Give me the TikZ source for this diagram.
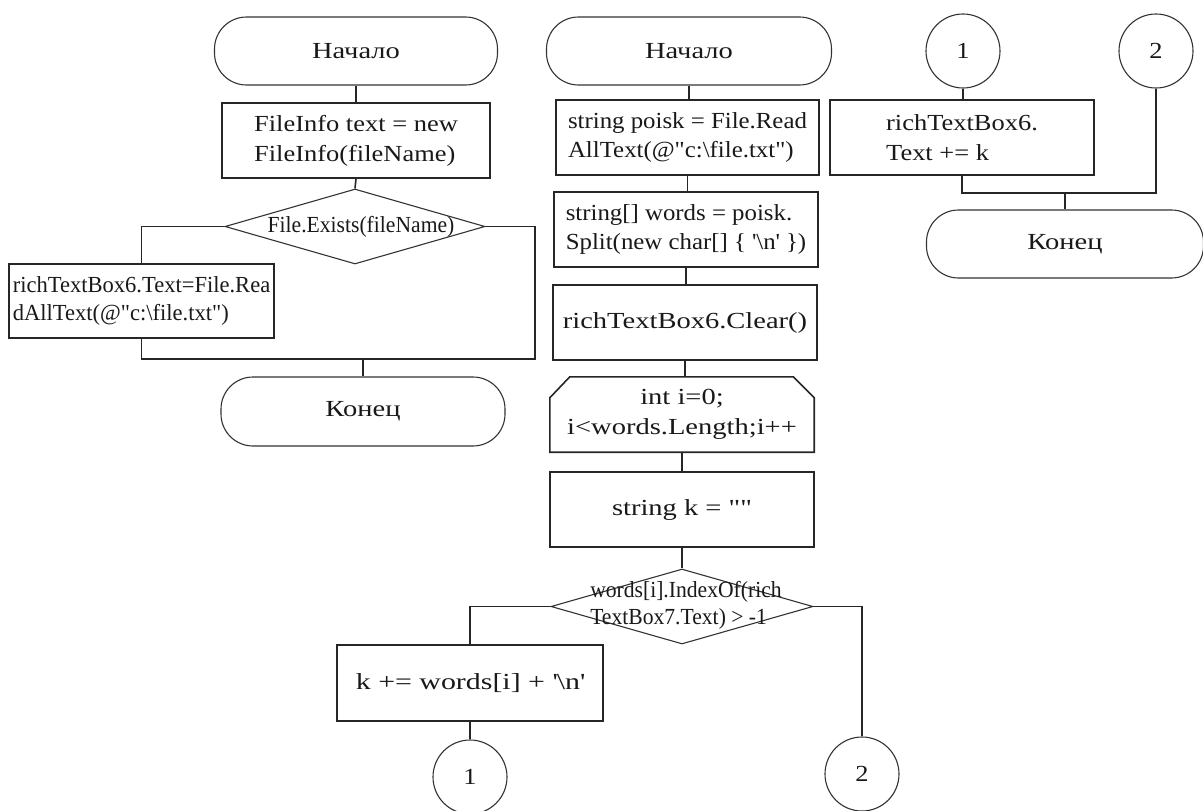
\documentclass[tikz,border=0pt]{standalone}
\usepackage{fontspec}
% Times-like faces at several horizontal widths
\newfontfamily\mainf{Liberation Serif}[FakeStretch=1.15]
\newfontfamily\midf{Liberation Serif}[FakeStretch=1.08]
\newfontfamily\widef{Liberation Serif}[FakeStretch=1.24]
\newfontfamily\xwidef{Liberation Serif}[FakeStretch=1.3]
\newfontfamily\condfont{Liberation Serif}[FakeStretch=0.94]
\newfontfamily\lcondfont{Liberation Serif}[FakeStretch=0.98]
\usetikzlibrary{shapes.geometric,calc}

\tikzset{
  ln/.style={draw=black!85, line width=1.6pt},
  thinln/.style={draw=black!80, line width=1.1pt},
  txt/.style={text=black!90, font=\mainf\fontsize{23}{30}\selectfont},
  term/.style={thinln, txt, font=\widef\fontsize{23}{30}\selectfont, rectangle, rounded corners=32pt, inner sep=0pt},
  proc/.style={ln, txt, rectangle, inner sep=0pt, align=left},
  decision/.style={thinln, diamond, inner sep=0pt},
  dtext/.style={inner sep=0pt, align=left, text=black!90, font=\condfont\fontsize{23}{27}\selectfont},
  conn/.style={thinln, txt, circle, inner sep=0pt, minimum size=74pt},
  flow/.style={ln},
}

\begin{document}
\begin{tikzpicture}[x=1pt,y=-1pt]
\useasboundingbox (0,0) rectangle (1203,811);
\fill[white] (0,0) rectangle (1203,811);

% ---------- first routine: read the file if it exists ----------
\node[term, minimum width=283pt, minimum height=68pt] (s1) at (356,51) {Начало};
\node[proc, minimum width=268pt, minimum height=75pt] (fi) at (356,140.5)
  {FileInfo text = new\\FileInfo(fileName)};
\node[decision, minimum width=260pt, minimum height=75pt] (d1) at (355,226.5) {};
\node[dtext] (d1t) at (361,227) {File.Exists(fileName)};
\node[proc, font=\lcondfont\fontsize{23}{28}\selectfont, minimum width=265pt, minimum height=74pt] (rb) at (141.5,301)
  {richTextBox6.Text=File.Rea\\dAllText(@"c:\textbackslash file.txt")};
\node[term, minimum width=284pt, minimum height=69pt] (e1) at (363,411.5) {Конец};
\coordinate (j1r) at (535,359);
\coordinate (j1) at (363,359);

\draw[flow] (s1.south) -- (s1.south |- fi.north);
\draw[flow] (fi.south) -- (d1.north);
\draw[flow] (d1.west) -| (rb.north);
\draw[flow] (rb.south) |- (j1r) |- (d1.east);
\draw[flow] (j1) -- (e1.north);

% ---------- second routine: search lines ----------
\node[term, minimum width=285pt, minimum height=68pt] (s2) at (689,51) {Начало};
\node[proc, font=\midf\fontsize{23}{29}\selectfont, minimum width=263pt, minimum height=75pt] (b1) at (687.5,137.5)
  {string poisk = File.Read\\AllText(@"c:\textbackslash file.txt")};
\node[proc, font=\midf\fontsize{23}{29}\selectfont, minimum width=264pt, minimum height=75pt] (b2) at (686,229.5)
  {string[] words = poisk.\\Split(new char[] \{ \textquotesingle\textbackslash n\textquotesingle{} \})};
\node[proc, font=\widef\fontsize{23}{30}\selectfont, minimum width=264pt, minimum height=75pt] (b3) at (685,322.5)
  {richTextBox6.Clear()};
\node[txt, font=\widef\fontsize{23}{30}\selectfont, inner sep=0pt, align=center, minimum width=264pt, minimum height=75pt] (lp) at (682,414.5)
  {int i=0;\\i<words.Length;i++};
\draw[ln] (lp.south west) -- ($(lp.north west)+(0,21)$) -- ($(lp.north west)+(20,0)$)
  -- ($(lp.north east)+(-21,0)$) -- ($(lp.north east)+(0,21)$) -- (lp.south east) -- cycle;
\node[proc, font=\widef\fontsize{23}{30}\selectfont, minimum width=264pt, minimum height=75pt] (bk) at (682,509.5)
  {string k = ""};
\node[decision, minimum width=262pt, minimum height=75pt] (d2) at (682,606.5) {};
\node[dtext] (d2t) at (686,605.5) {words[i].IndexOf(rich\\TextBox7.Text) > -1};
\node[proc, font=\xwidef\fontsize{23}{30}\selectfont, minimum width=266pt, minimum height=76pt] (bk2) at (470,683)
  {k += words[i] + \textquotesingle\textbackslash n\textquotesingle};
\node[conn] (c1) at (470,777) {1};
\node[conn] (c2) at (862,774) {2};

\draw[flow] (s2.south) -- (s2.south |- b1.north);
\draw[flow] (b1.south) -- (b1.south |- b2.north);
\draw[flow] (b2.south) -- (b2.south |- b3.north);
\draw[flow] (b3.south) -- (b3.south |- lp.north);
\draw[flow] (lp.south) -- (lp.south |- bk.north);
\draw[flow] (bk.south) -- (d2.north);
\draw[flow] (d2.west) -| (bk2.north);
\draw[flow] (bk2.south) -- (c1.north);
\draw[flow] (d2.east) -| (c2.north);

% ---------- continuation ----------
\node[conn] (rc1) at (963,51) {1};
\node[conn] (rc2) at (1156,51) {2};
\node[proc, minimum width=264pt, minimum height=75pt] (rb2) at (962,137.5)
  {richTextBox6.\\Text += k};
\node[term, minimum width=277pt, minimum height=68pt] (e2) at (1065,244) {Конец};
\coordinate (j3) at (1156,193);
\coordinate (j4) at (1065,193);

\draw[flow] (rc1.south) -- (rc1.south |- rb2.north);
\draw[flow] (rb2.south) |- (j3) -- (rc2.south);
\draw[flow] (j4) -- (e2.north);
\end{tikzpicture}
\end{document}
